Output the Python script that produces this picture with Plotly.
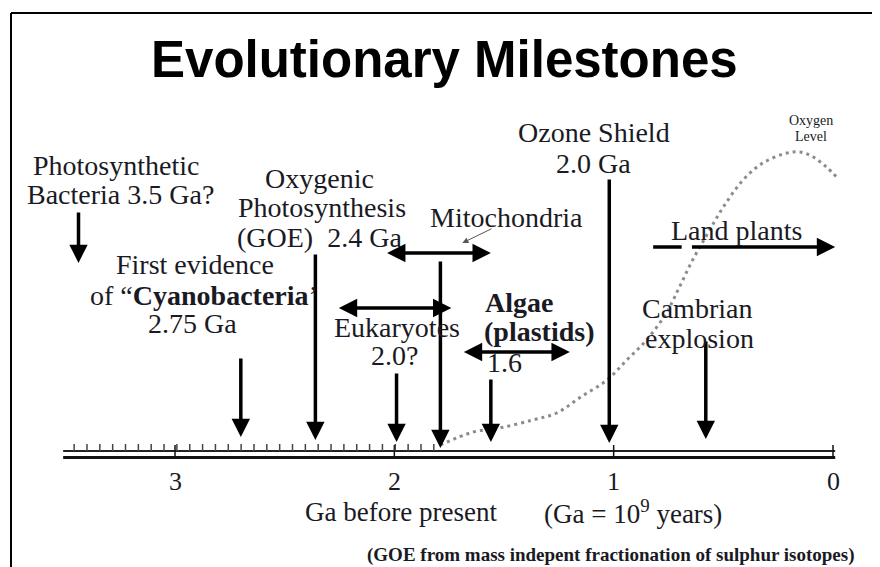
import plotly.graph_objects as go
import numpy as np

# ---------------- data ----------------
# point events: position (Ga before present), arrow tail / tip height above the time axis
event_names = ["Photosynthetic bacteria", "Cyanobacteria", "Oxygenic photosynthesis", "Eukaryotes",
               "Mitochondria", "Algae", "Ozone shield", "Cambrian explosion"]
event_ga = [3.44, 2.70, 2.36, 1.99, 1.79, 1.56, 1.02, 0.58]
event_top = [240, 94, 198, 79, 191, 73, 273, 111]
event_tip = [188, 14, 11, 9, 3, 9, 8, 12]

# time spans (horizontal arrows)
span_names = ["Mitochondria", "Eukaryotes", "Algae", "Land plants"]
span_start = [2.04, 2.26, 1.69, 0.65]
span_end = [1.56, 1.74, 1.20, -0.01]
span_level = [198, 143, 99, 204]
span_double = [True, True, True, False]
land_dash_ga = [0.82, 0.69]

# oxygen level curve (dotted)
oxygen_ga = [1.79, 1.64, 1.52, 1.37, 1.26, 1.15, 1.03, 0.94, 0.85, 0.76, 0.70,
             0.64, 0.57, 0.50, 0.41, 0.32, 0.21, 0.15, 0.09, 0.03, -0.02]
oxygen_level = [6, 19, 23, 31, 38, 54, 71, 91, 111, 138, 164,
                191, 218, 244, 271, 288, 298, 299, 294, 284, 273]

# axis
axis_start, axis_end = 3.51, -0.01
tick_vals = [3, 2, 1, 0]
tick_text = ["3", "2", "1", "0"]
hatch_ga = list(np.linspace(3.46, 1.82, 29))

# ---------------- figure ----------------
INK = "#1a1a24"
SERIF = "Liberation Serif"
W, H = 872, 559   # page body adds an 8px margin
fig = go.Figure()

# double time-axis line
fig.add_trace(go.Scatter(x=[axis_start, axis_end], y=[0, 0], mode="lines",
                         line=dict(color="#222", width=2), hoverinfo="skip", showlegend=False))
fig.add_trace(go.Scatter(x=[axis_start, axis_end], y=[-6.5, -6.5], mode="lines",
                         line=dict(color="#111", width=3), hoverinfo="skip", showlegend=False))
# major ticks
tx, ty = [], []
for v in tick_vals:
    tx += [v, v, None]
    ty += [6, -6, None]
fig.add_trace(go.Scatter(x=tx, y=ty, mode="lines", line=dict(color="#111", width=1.5),
                         hoverinfo="skip", showlegend=False))
# hatch marks
hx, hy = [], []
for v in hatch_ga:
    hx += [v, v, None]
    hy += [0, 7, None]
fig.add_trace(go.Scatter(x=hx, y=hy, mode="lines", line=dict(color="#444", width=1.5),
                         hoverinfo="skip", showlegend=False))

# oxygen curve
fig.add_trace(go.Scatter(x=oxygen_ga, y=oxygen_level, mode="lines",
                         line=dict(color="#8c8c8c", width=3, dash="3px,4px", shape="spline"),
                         hoverinfo="skip", showlegend=False))

# land plants leading dash
fig.add_trace(go.Scatter(x=land_dash_ga, y=[span_level[3]] * 2, mode="lines",
                         line=dict(color="#000", width=3.5), hoverinfo="skip", showlegend=False))

annotations = []
# vertical event arrows
for g, top, tip in zip(event_ga, event_top, event_tip):
    annotations.append(dict(x=g, y=tip, ax=g, ay=top, xref="x", yref="y", axref="x", ayref="y",
                            text="", showarrow=True, arrowhead=2, arrowsize=1.05, arrowwidth=3.5,
                            arrowcolor="#000", standoff=0, startstandoff=0))
# horizontal span arrows
for s, e, lv, dbl in zip(span_start, span_end, span_level, span_double):
    annotations.append(dict(x=e, y=lv, ax=s, ay=lv, xref="x", yref="y", axref="x", ayref="y",
                            text="", showarrow=True, arrowhead=2, startarrowhead=2,
                            arrowside="end+start" if dbl else "end",
                            arrowsize=1.05, startarrowsize=1.05, arrowwidth=3.5,
                            arrowcolor="#000", standoff=0, startstandoff=0))
# mitochondria pointer
annotations.append(dict(x=1.69, y=208, ax=1.55, ay=223, xref="x", yref="y", axref="x", ayref="y",
                        text="", showarrow=True, arrowhead=2, arrowsize=1.2, arrowwidth=1,
                        arrowcolor="#555", standoff=0))

FS = 28
labels = [
    ("Photosynthetic", 3.27, 286, FS, False),
    ("Bacteria 3.5 Ga?", 3.25, 257, FS, False),
    ("Oxygenic", 2.34, 273, FS, False),
    ("Photosynthesis", 2.33, 244, FS, False),
    ("(GOE)  2.4 Ga", 2.34, 214, FS, False),
    ("Mitochondria", 1.49, 234, FS, False),
    ("First evidence", 2.91, 187, FS, False),
    ("of “<b>Cyanobacteria</b>’", 2.87, 156, FS, False),
    ("2.75 Ga", 2.92, 128, FS, False),
    ("Eukaryotes", 1.99, 124, FS, False),
    ("2.0?", 2.00, 96, FS, False),
    ("Algae", 1.43, 149, FS, True),
    ("(plastids)", 1.34, 120, FS, True),
    ("1.6", 1.50, 89, FS, False),
    ("Ozone Shield", 1.09, 319, FS, False),
    ("2.0 Ga", 1.09, 288, FS, False),
    ("Land plants", 0.44, 221, FS, False),
    ("Cambrian", 0.62, 143, FS, False),
    ("explosion", 0.61, 113, FS, False),
    ("Oxygen", 0.10, 331, 14, False),
    ("Level", 0.10, 315, 14, False),
    ("Ga before present", 1.97, -61, 27, False),
    ("(Ga = 10<sup>9</sup> years)", 0.91, -61, 27, False),
    ("(GOE from mass indepent fractionation of sulphur isotopes)", 1.01, -104, 19, True),
]
for t, g, lv, sz, b in labels:
    annotations.append(dict(x=g, y=lv, xref="x", yref="y", text=f"<b>{t}</b>" if b else t,
                            showarrow=False, font=dict(family=SERIF, size=sz, color=INK)))
for v, t in zip(tick_vals, tick_text):
    annotations.append(dict(x=v, y=-30, xref="x", yref="y", text=t, showarrow=False,
                            font=dict(family=SERIF, size=26, color=INK)))

# title
annotations.append(dict(x=1.77, y=392, xref="x", yref="y", text="<b>Evolutionary Milestones</b>",
                        showarrow=False, font=dict(family="Liberation Sans", size=51, color="#000")))

shapes = [
    dict(type="line", xref="paper", yref="paper", x0=3 / W, x1=3 / W, y0=0, y1=1 - 5 / H,
         line=dict(color="#000", width=2)),
    dict(type="line", xref="paper", yref="paper", x0=3 / W, x1=1, y0=1 - 5 / H, y1=1 - 5 / H,
         line=dict(color="#000", width=2)),
]

fig.update_layout(
    width=W, height=H, margin=dict(l=0, r=0, t=0, b=0),
    paper_bgcolor="white", plot_bgcolor="white",
    xaxis=dict(range=[3.7615, -0.2143], visible=False, fixedrange=True),
    yaxis=dict(range=[-116, 443], visible=False, fixedrange=True),
    annotations=annotations, shapes=shapes, showlegend=False,
)

fig.write_html("out.html")
